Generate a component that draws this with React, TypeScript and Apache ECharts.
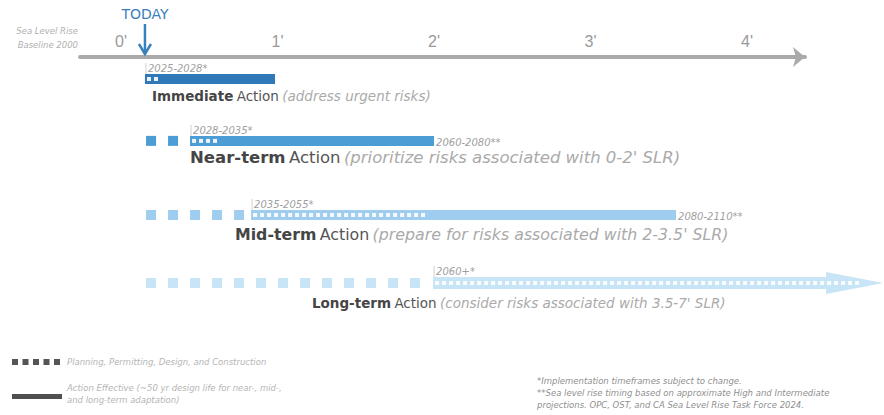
import React, { useEffect, useRef } from "react";
import * as echarts from "echarts";

// ---- data (sea level rise in feet) ----
const actionNames = ["Immediate", "Near-term", "Mid-term", "Long-term"];
const actionDescriptions = [
  "(address urgent risks)",
  "(prioritize risks associated with 0-2' SLR)",
  "(prepare for risks associated with 2-3.5' SLR)",
  "(consider risks associated with 3.5-7' SLR)",
];
const lanes = [0, 0.91, 2, 3];
const planningStartFt = [0.153, 0.16, 0.16, 0.16];
const effectiveStartFt = [0.153, 0.441, 0.831, 1.994];
const effectiveEndFt = [0.984, 2.0, 3.546, 4.869];
const planningEndFt = [0.24, 0.645, 1.987, 4.72];
const labelStartFt = [0.198, 0.441, 0.728, 1.22];
const startLabels = ["2025-2028*", "2028-2035*", "2035-2055*", "2060+*"];
const endLabels = ["", "2060-2080**", "2080-2110**", ""];
const axisTicksFt = [0, 1, 2, 3, 4];
const todayFt = 0.153;

const rowColors = ["#2f79b8", "#4c9cd6", "#9fcdef", "#c8e4f7"];
const labelSizes = [13.5, 16.5, 15.8, 13.5];
const FONT = "'DejaVu Sans', sans-serif";

export default function App() {
  const ref = useRef<HTMLDivElement>(null);
  useEffect(() => {
    if (!ref.current) return;
    const chart = echarts.init(ref.current, null, { renderer: "svg" });
    const rows = actionNames.map((_, i) => [
      lanes[i],
      planningStartFt[i],
      effectiveStartFt[i],
      effectiveEndFt[i],
      planningEndFt[i],
      labelStartFt[i],
    ]);
    const smallText = (x: number, y: number, text: string, fill: string, size: number, align = "left") => ({
      type: "text",
      style: {
        x,
        y,
        text,
        fill,
        font: `italic ${size}px ${FONT}`,
        align,
        verticalAlign: "middle",
      },
    });
    const option: any = {
      animation: false,
      backgroundColor: "#ffffff",
      grid: { left: 80, right: 79, top: 57, bottom: 64 },
      xAxis: {
        type: "value",
        position: "top",
        min: -0.262,
        max: 4.37,
        splitLine: { show: false },
        axisTick: { show: false },
        axisLine: {
          show: true,
          onZero: false,
          lineStyle: { color: "#aaaaaa", width: 4 },
          symbol: ["none", "arrow"],
          symbolSize: [15, 12],
        },
        axisLabel: {
          customValues: axisTicksFt,
          formatter: (v: number) => `${v}'`,
          color: "#9a9a9a",
          fontSize: 16,
          fontFamily: "'Liberation Sans', Arial, sans-serif",
          margin: 8,
        },
      },
      yAxis: {
        type: "value",
        inverse: true,
        min: -0.3235,
        max: 4,
        show: false,
        splitLine: { show: false },
      },
      series: [
        {
          type: "custom",
          clip: false,
          data: rows,
          encode: { x: [1, 2, 3, 4, 5], y: 0 },
          renderItem: (params: any, api: any) => {
            const i = params.dataIndex;
            const lane = api.value(0);
            const yc = api.coord([0, lane])[1];
            const ps = api.coord([api.value(1), lane])[0];
            const bs = api.coord([api.value(2), lane])[0];
            const be = api.coord([api.value(3), lane])[0];
            const pe = api.coord([api.value(4), lane])[0];
            const ls = api.coord([api.value(5), lane])[0];
            const color = rowColors[i];
            const isArrow = i === actionNames.length - 1;
            const h = isArrow ? 12 : 10;
            const fs = labelSizes[i];
            const children: any[] = [];
            for (let sx = ps; sx + 10 <= bs - 2; sx += 22) {
              children.push({
                type: "rect",
                shape: { x: sx, y: yc - 5, width: 10, height: 10 },
                style: { fill: color },
              });
            }
            if (isArrow) {
              const hb = be - 57;
              children.push({
                type: "polygon",
                shape: {
                  points: [
                    [bs, yc - 6],
                    [hb, yc - 6],
                    [hb, yc - 11],
                    [be, yc],
                    [hb, yc + 11],
                    [hb, yc + 6],
                    [bs, yc + 6],
                  ],
                },
                style: { fill: color },
              });
            } else {
              children.push({
                type: "rect",
                shape: { x: bs, y: yc - h / 2, width: be - bs, height: h },
                style: { fill: color },
              });
            }
            for (let dx = bs + 2; dx + 4 <= pe; dx += 7) {
              children.push({
                type: "rect",
                shape: { x: dx, y: yc - 2, width: 4, height: 4 },
                style: { fill: "#ffffff", opacity: 0.9 },
              });
            }
            children.push({
              type: "line",
              shape: { x1: bs + 1, y1: yc - h / 2 - 11, x2: bs + 1, y2: yc - h / 2 },
              style: { stroke: "#c4c4c4", lineWidth: 0.8 },
            });
            children.push(smallText(bs + 3, yc - h / 2 - 5, startLabels[i], "#a0a0a0", 10));
            if (endLabels[i]) {
              children.push(smallText(be + 2, yc + 2, endLabels[i], "#a0a0a0", 10));
            }
            children.push({
              type: "text",
              style: {
                x: ls,
                y: yc + (i < 2 ? 17 : 20),
                text: `{b|${actionNames[i]}} {r|Action} {i|${actionDescriptions[i]}}`,
                verticalAlign: "middle",
                align: "left",
                rich: {
                  b: { fontFamily: FONT, fontWeight: "bold", fontSize: fs, fill: "#454545" },
                  r: { fontFamily: FONT, fontSize: fs, fill: "#555555" },
                  i: { fontFamily: FONT, fontStyle: "italic", fontSize: fs, fill: "#aaaaaa" },
                },
              },
            });
            return { type: "group", children };
          },
        },
        {
          type: "custom",
          clip: false,
          data: [[todayFt, 0]],
          encode: { x: 0, y: 1 },
          renderItem: (params: any, api: any) => {
            const x = api.coord([api.value(0), 0])[0];
            const top = params.coordSys.y;
            const c = "#3a80bd";
            return {
              type: "group",
              children: [
                {
                  type: "text",
                  style: {
                    x,
                    y: top - 43,
                    text: "TODAY",
                    fill: c,
                    font: `14px ${FONT}`,
                    align: "center",
                    verticalAlign: "middle",
                  },
                },
                {
                  type: "line",
                  shape: { x1: x, y1: top - 33, x2: x, y2: top - 3 },
                  style: { stroke: c, lineWidth: 2.5 },
                },
                {
                  type: "polyline",
                  shape: {
                    points: [
                      [x - 6, top - 13],
                      [x, top - 3],
                      [x + 6, top - 13],
                    ],
                  },
                  style: { stroke: c, lineWidth: 2.5, fill: "none" },
                },
              ],
            };
          },
        },
      ],
      graphic: [
        smallText(78, 31, "Sea Level Rise", "#b0b0b0", 8.5, "right"),
        smallText(78, 45, "Baseline 2000", "#b0b0b0", 8.5, "right"),
        ...[0, 1, 2, 3, 4].map((k) => ({
          type: "rect",
          shape: { x: 12 + k * 10.5, y: 359, width: 6, height: 6 },
          style: { fill: "#555555" },
        })),
        smallText(67, 362, "Planning, Permitting, Design, and Construction", "#b5b5b5", 8.5),
        {
          type: "rect",
          shape: { x: 12, y: 394, width: 50, height: 5 },
          style: { fill: "#4f4f4f" },
        },
        smallText(67, 388, "Action Effective (~50 yr design life for near-, mid-,", "#b5b5b5", 8.5),
        smallText(67, 400, "and long-term adaptation)", "#b5b5b5", 8.5),
        smallText(537, 381, "*Implementation timeframes subject to change.", "#8f8f8f", 8.5),
        smallText(537, 393, "**Sea level rise timing based on approximate High and Intermediate", "#8f8f8f", 8.5),
        smallText(537, 405, "projections. OPC, OST, and CA Sea Level Rise Task Force 2024.", "#8f8f8f", 8.5),
      ],
    };
    chart.setOption(option);
    return () => chart.dispose();
  }, []);
  return (
    <div
      ref={ref}
      style={{ position: "absolute", left: 0, top: 0, width: 884, height: 415 }}
    />
  );
}
